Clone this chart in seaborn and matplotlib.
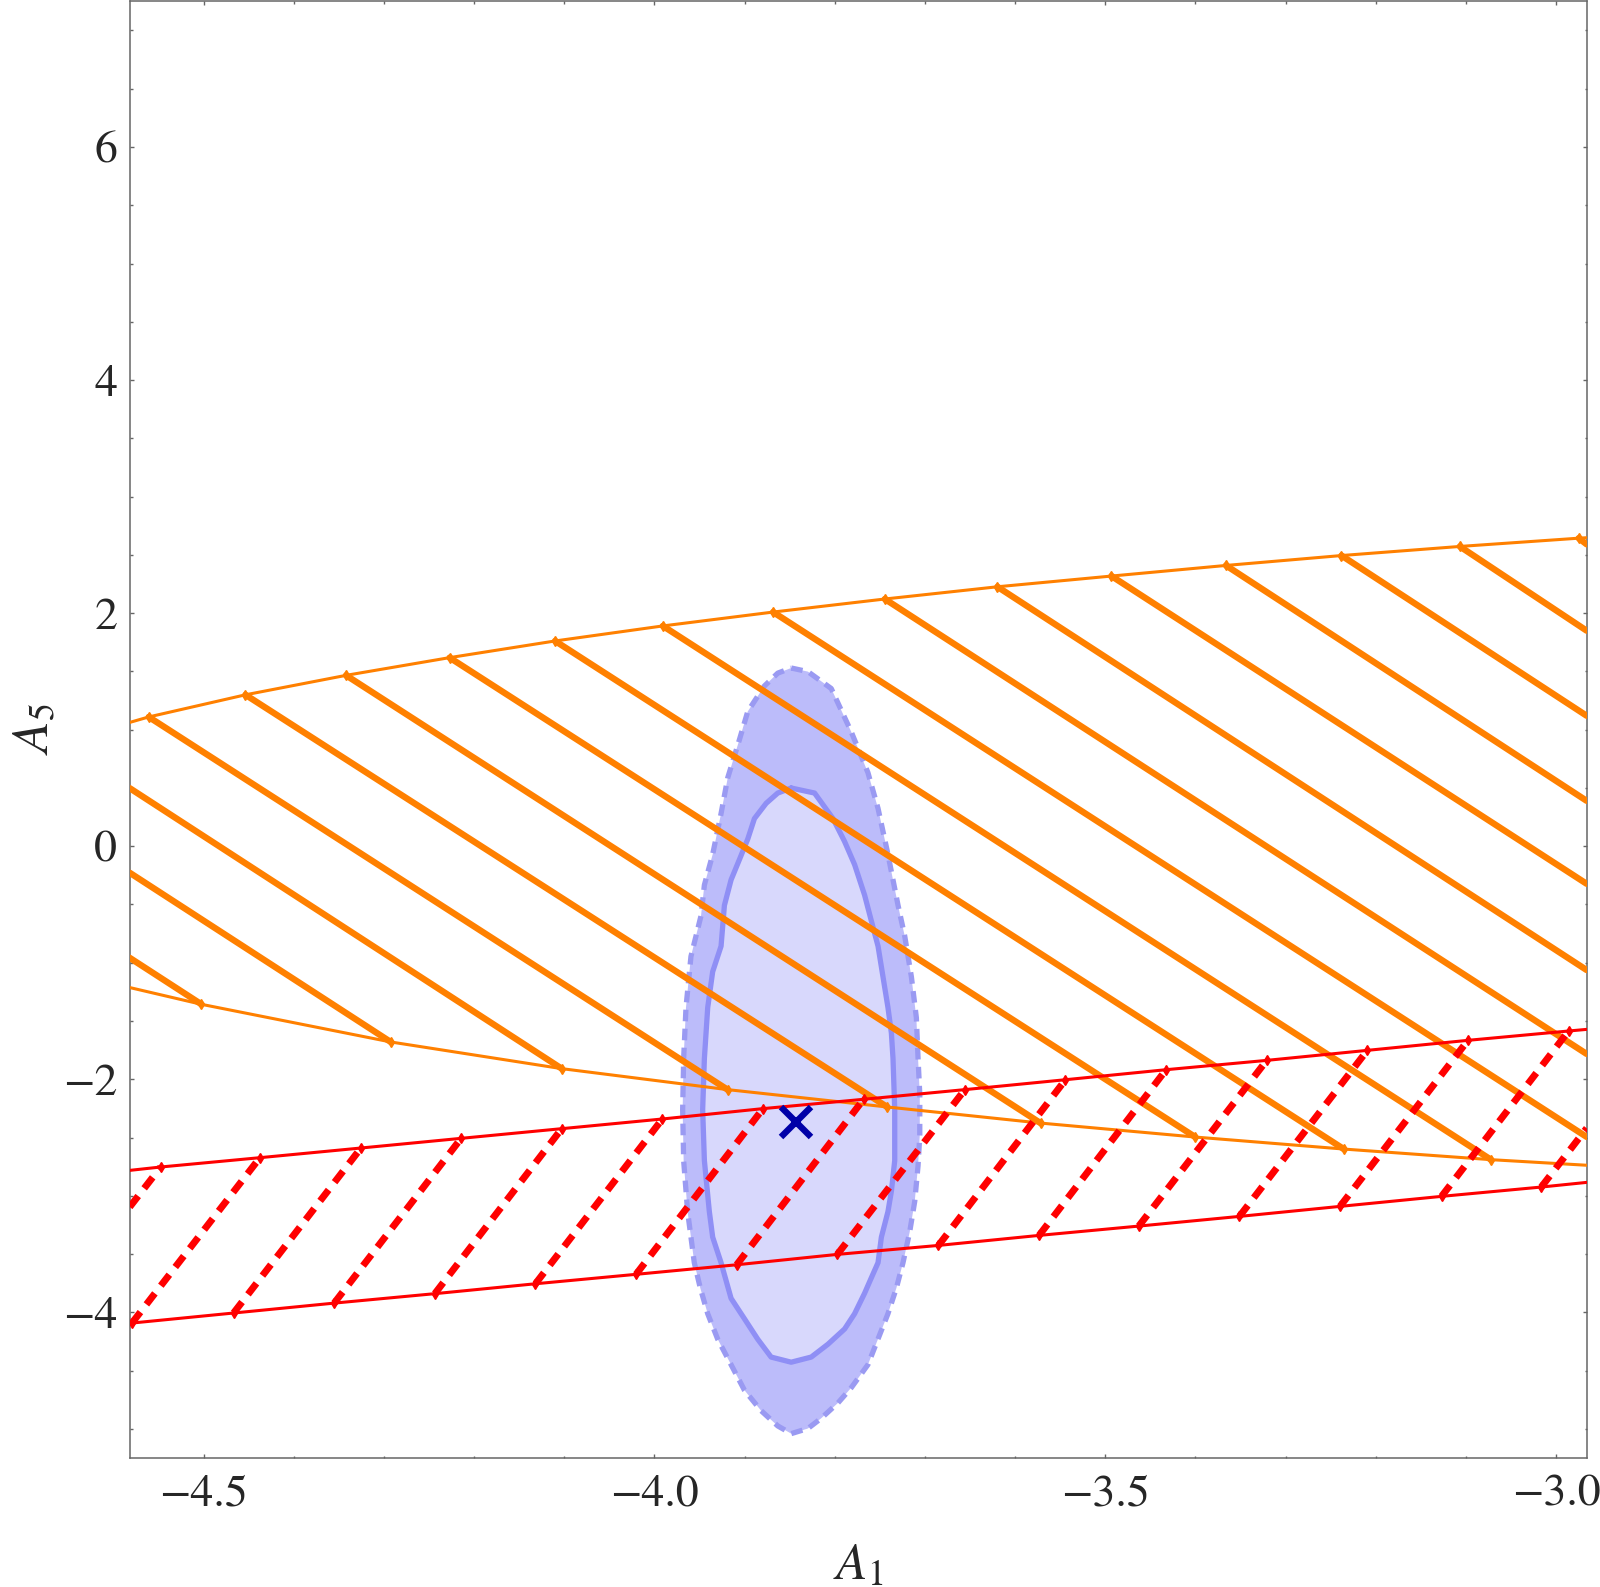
import matplotlib
matplotlib.use("Agg")
import matplotlib.pyplot as plt
import numpy as np
import pandas as pd
import seaborn as sns

# ---- data (A1, A5) ----
# orange band: upper and lower edges
orange_up_x = [-4.582, -4.5609, -4.4536, -4.342, -4.2272, -4.1102, -3.9907, -3.8684,
               -3.7445, -3.6196, -3.4931, -3.3661, -3.2380, -3.1067, -2.9749, -2.966]
orange_up_y = [1.062, 1.109, 1.299, 1.466, 1.618, 1.761, 1.890, 2.009,
               2.121, 2.226, 2.318, 2.409, 2.494, 2.572, 2.643, 2.647]
orange_lo_x = [-4.582, -4.5024, -4.2925, -4.1028, -3.9189, -3.7418, -3.5718, -3.4001,
               -3.2354, -3.0722, -2.966]
orange_lo_y = [-1.213, -1.357, -1.680, -1.909, -2.089, -2.238, -2.376, -2.496,
               -2.599, -2.690, -2.738]

# orange hatch segments
orange_hx0 = [-4.582, -4.582, -4.582, -4.5609, -4.4536, -4.342, -4.2272, -4.1102, -3.9907,
              -3.8684, -3.7445, -3.6196, -3.4931, -3.3661, -3.2380, -3.1067, -2.9749]
orange_hy0 = [-0.958, -0.228, 0.498, 1.109, 1.299, 1.466, 1.618, 1.761, 1.890,
              2.009, 2.121, 2.226, 2.318, 2.409, 2.494, 2.572, 2.643]
orange_hx1 = [-4.5024, -4.2925, -4.1028, -3.9189, -3.7418, -3.5718, -3.4001, -3.2354, -3.0722,
              -2.966, -2.966, -2.966, -2.966, -2.966, -2.966, -2.966, -2.966]
orange_hy1 = [-1.357, -1.680, -1.909, -2.089, -2.238, -2.376, -2.496, -2.599, -2.690,
              -2.495, -1.783, -1.063, -0.323, 0.389, 1.119, 1.849, 2.590]

# red band: upper and lower edges
red_up_x = [-4.582, -4.5476, -4.4376, -4.3255, -4.2144, -4.1028, -3.9912, -3.8796, -3.768,
            -3.6557, -3.5441, -3.4325, -3.3209, -3.2093, -3.0977, -2.9861, -2.966]
red_up_y = [-2.782, -2.753, -2.673, -2.590, -2.507, -2.424, -2.341, -2.252, -2.172,
            -2.089, -2.004, -1.918, -1.838, -1.752, -1.666, -1.586, -1.572]
red_lo_x = [-4.582, -4.5795, -4.4668, -4.3552, -4.2436, -4.132, -4.0204, -3.9088, -3.7972,
            -3.685, -3.5734, -3.4628, -3.3512, -3.2396, -3.127, -3.0164, -2.966]
red_lo_y = [-4.094, -4.092, -4.006, -3.921, -3.840, -3.755, -3.674, -3.592, -3.503,
            -3.426, -3.340, -3.260, -3.177, -3.091, -3.005, -2.925, -2.885]

# red hatch segments
red_hx0 = [-4.582, -4.5795, -4.4668, -4.3552, -4.2436, -4.132, -4.0204, -3.9088, -3.7972,
           -3.685, -3.5734, -3.4628, -3.3512, -3.2396, -3.127, -3.0164]
red_hy0 = [-3.096, -4.092, -4.006, -3.921, -3.840, -3.755, -3.674, -3.592, -3.503,
           -3.426, -3.340, -3.260, -3.177, -3.091, -3.005, -2.925]
red_hx1 = [-4.5476, -4.4376, -4.3255, -4.2144, -4.1028, -3.9912, -3.8796, -3.768, -3.6557,
           -3.5441, -3.4325, -3.3209, -3.2093, -3.0977, -2.9861, -2.966]
red_hy1 = [-2.753, -2.673, -2.590, -2.507, -2.424, -2.341, -2.252, -2.172, -2.089,
           -2.004, -1.918, -1.838, -1.752, -1.666, -1.586, -2.42]

# blue contours (outer dashed, inner solid)
outer_x = [-3.8483, -3.8298, -3.8039, -3.7817, -3.7632, -3.752, -3.741, -3.7298, -3.7224,
           -3.715, -3.7095, -3.7076, -3.7057, -3.7057, -3.7076, -3.7113, -3.7169, -3.7243,
           -3.7317, -3.741, -3.7632, -3.7817, -3.7965, -3.815, -3.8298, -3.8483, -3.8632,
           -3.8817, -3.9002, -3.915, -3.9298, -3.9409, -3.9491, -3.9558, -3.9595, -3.9632,
           -3.9676, -3.9687, -3.9676, -3.965, -3.9595, -3.9539, -3.9483, -3.9446, -3.9354,
           -3.9261, -3.9187, -3.9057, -3.8965, -3.8780, -3.8632]
outer_y = [1.529, 1.498, 1.353, 0.981, 0.631, 0.324, -0.070, -0.508, -0.771,
           -1.121, -1.471, -1.822, -2.128, -2.479, -2.741, -3.048, -3.311, -3.574,
           -3.793, -4.012, -4.449, -4.647, -4.778, -4.909, -4.997, -5.041, -4.975,
           -4.844, -4.668, -4.449, -4.231, -4.012, -3.793, -3.574, -3.355, -3.136,
           -2.698, -2.260, -1.822, -1.384, -0.946, -0.771, -0.596, -0.333, -0.070,
           0.280, 0.587, 0.915, 1.156, 1.375, 1.485]
inner_x = [-3.8483, -3.8224, -3.802, -3.7891, -3.778, -3.7669, -3.7595, -3.752, -3.7465,
           -3.741, -3.7372, -3.7354, -3.7335, -3.7335, -3.7372, -3.741, -3.7483, -3.752,
           -3.7595, -3.7669, -3.778, -3.7891, -3.8076, -3.8261, -3.8483, -3.8706, -3.8854,
           -3.9002, -3.915, -3.9261, -3.9354, -3.9391, -3.9446, -3.9465, -3.9446, -3.9409,
           -3.9354, -3.9261, -3.9224, -3.915, -3.9057, -3.8965, -3.8891, -3.8761, -3.8632]
inner_y = [0.499, 0.456, 0.237, 0.040, -0.158, -0.420, -0.639, -0.858, -1.121,
           -1.384, -1.603, -1.822, -2.260, -2.698, -2.961, -3.136, -3.355, -3.574,
           -3.705, -3.836, -4.012, -4.143, -4.274, -4.384, -4.428, -4.384, -4.231,
           -4.055, -3.880, -3.574, -3.355, -3.136, -2.698, -2.260, -1.822, -1.384,
           -1.077, -0.858, -0.508, -0.289, -0.114, 0.061, 0.237, 0.368, 0.456]

best_fit = (-3.8435, -2.369)

x_ticks = [-4.5, -4.0, -3.5, -3.0]
y_ticks = [-4, -2, 0, 2, 4, 6]

ORANGE = "#ff8000"
RED = "#ff0000"


def segments(x0, y0, x1, y1):
    rows = []
    for i, (a, b, c, d) in enumerate(zip(x0, y0, x1, y1)):
        rows.append({"seg": i, "x": a, "y": b})
        rows.append({"seg": i, "x": c, "y": d})
    return pd.DataFrame(rows)


sns.set_theme(style="ticks")
plt.rcParams["font.family"] = ["STIXGeneral", "DejaVu Serif"]
plt.rcParams["mathtext.fontset"] = "stix"

fig = plt.figure(figsize=(16, 15.87), dpi=100)
ax = fig.add_axes([0.08106, 0.08129, 0.91063, 0.91789])

# blue confidence regions
ax.fill(outer_x, outer_y, color="#bcbcfa", lw=0, zorder=1)
ax.fill(inner_x, inner_y, color="#d8d8fc", lw=0, zorder=1.1)
ax.plot(outer_x + outer_x[:1], outer_y + outer_y[:1], color="#9a9af2", lw=3.8,
        dashes=(2.2, 1.4), zorder=1.2)
ax.plot(inner_x + inner_x[:1], inner_y + inner_y[:1], color="#8f8ff5", lw=3.8,
        zorder=1.2)

# orange band
sns.lineplot(data=segments(orange_hx0, orange_hy0, orange_hx1, orange_hy1),
             x="x", y="y", units="seg", estimator=None, sort=False,
             color=ORANGE, lw=4.6, ax=ax, zorder=3)
ax.plot(orange_up_x, orange_up_y, color=ORANGE, lw=2.2, zorder=3,
        marker="d", ms=5, markevery=list(range(1, len(orange_up_x) - 1)))
ax.plot(orange_lo_x, orange_lo_y, color=ORANGE, lw=2.2, zorder=3,
        marker="d", ms=5, markevery=list(range(1, len(orange_lo_x) - 1)))

# red band
red_df = segments(red_hx0, red_hy0, red_hx1, red_hy1)
for seg, grp in red_df.groupby("seg"):
    ax.plot(grp["x"], grp["y"], color=RED, lw=5.0, dashes=(2.0, 1.4),
            dash_capstyle="butt", zorder=4)
ax.plot(red_up_x, red_up_y, color=RED, lw=2.2, zorder=4,
        marker="d", ms=5, markevery=list(range(1, len(red_up_x) - 1)))
ax.plot(red_lo_x, red_lo_y, color=RED, lw=2.2, zorder=4,
        marker="d", ms=5, markevery=list(range(1, len(red_lo_x) - 1)))

# best fit point
ax.plot([best_fit[0]], [best_fit[1]], marker="x", ms=21, mew=4.6,
        color="#0000a8", ls="none", zorder=6)

ax.set_xlim(-4.582, -2.966)
ax.set_ylim(-5.25, 7.25)
ax.set_xticks(x_ticks)
ax.set_xticklabels(["\u22124.5", "\u22124.0", "\u22123.5", "\u22123.0"])
ax.set_yticks(y_ticks)
ax.set_yticklabels(["\u22124", "\u22122", "0", "2", "4", "6"])
ax.set_xticks(np.arange(-4.5, -2.9, 0.1), minor=True)
ax.set_yticks(np.arange(-5.0, 7.5, 0.5), minor=True)
ax.tick_params(which="both", direction="in", top=True, right=True,
               color="#666666", width=1.0)
ax.tick_params(which="major", length=3.2, labelsize=33, pad=12)
ax.tick_params(which="minor", length=1.8)
ax.tick_params(axis="y", pad=9)
for sp in ax.spines.values():
    sp.set_color("#666666")
    sp.set_linewidth(1.1)

ax.set_xlabel(r"$A_1$", fontsize=37, labelpad=20)
ax.set_ylabel(r"$A_5$", fontsize=37, labelpad=2)
ax.grid(False)

fig.savefig("out.png", dpi=100, facecolor="white")
